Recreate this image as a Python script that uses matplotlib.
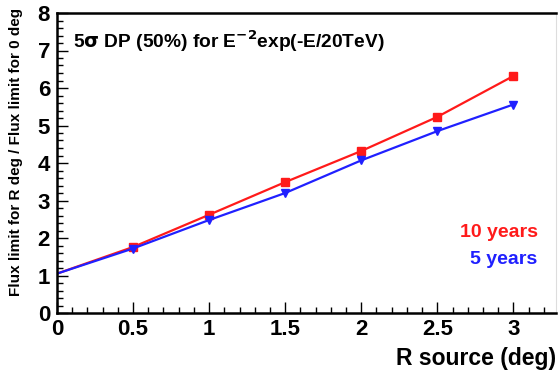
import matplotlib

matplotlib.use("Agg")
import matplotlib.pyplot as plt
from matplotlib.ticker import MultipleLocator

r_source = [0.0, 0.5, 1.0, 1.5, 2.0, 2.5, 3.0]
ratio_10y = [1.05, 1.76, 2.62, 3.49, 4.32, 5.23, 6.32]
ratio_5y = [1.05, 1.72, 2.48, 3.20, 4.07, 4.85, 5.56]
x_ticks = [0, 0.5, 1, 1.5, 2, 2.5, 3]
x_ticklabels = ["0", "0.5", "1", "1.5", "2", "2.5", "3"]

plt.rcParams["font.family"] = ["Liberation Sans", "DejaVu Sans"]
plt.rcParams["font.weight"] = "bold"

fig = plt.figure(figsize=(5.59, 3.71), dpi=100)
ax = fig.add_axes([57 / 559, 1 - 313 / 371, 499 / 559, 300 / 371])

ax.plot(r_source, ratio_10y, color="#ff1a1a", lw=1.6, marker="s", ms=6, markevery=slice(1, None))
ax.plot(r_source, ratio_5y, color="#2020ff", lw=1.6, marker="v", ms=6, markevery=slice(1, None))

ax.set_xlim(0, 3.28)
ax.set_ylim(0, 8)
ax.set_xticks(x_ticks)
ax.set_xticklabels(x_ticklabels)
ax.xaxis.set_minor_locator(MultipleLocator(0.1))
ax.yaxis.set_major_locator(MultipleLocator(1))
ax.yaxis.set_minor_locator(MultipleLocator(0.2))
ax.tick_params(which="both", direction="in", top=False, right=False, labelsize=16, width=1)
ax.tick_params(which="major", length=8, pad=4)
ax.tick_params(axis="y", which="major", pad=5)
ax.tick_params(which="minor", length=4)
for s in ["left", "bottom", "top"]:
    ax.spines[s].set_linewidth(1.8)
ax.spines["right"].set_color("#dddddd")
ax.spines["right"].set_linewidth(0.8)

ax.set_xlabel("R source (deg)", fontsize=16.5, fontweight="bold", loc="right", labelpad=5)
ax.set_ylabel("Flux limit for R deg / Flux limit for 0 deg", fontsize=11, fontweight="bold", loc="top")
ax.yaxis.set_label_coords(-0.068, 1.017)

ax.text(0.033, 0.905, r"5$\mathbf{\sigma}$ DP (50%) for E$^{\mathbf{-2}}$exp(-E/20TeV)",
        transform=ax.transAxes, fontsize=13.8, fontweight="bold", va="center", ha="left")
ax.text(0.963, 0.267, "10 years", color="#ff1a1a", transform=ax.transAxes,
        fontsize=14, fontweight="bold", ha="right", va="center")
ax.text(0.963, 0.177, "5 years", color="#2020ff", transform=ax.transAxes,
        fontsize=14, fontweight="bold", ha="right", va="center")

fig.savefig("out.png", dpi=100)
